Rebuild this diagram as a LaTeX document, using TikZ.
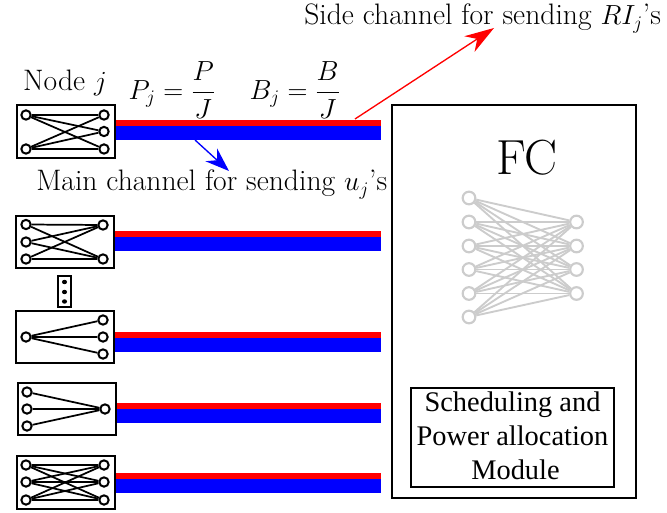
\documentclass[tikz,border=0pt]{standalone}
\usepackage{amsmath}
\usepackage{fontspec}
\usepackage{tikz}
\usetikzlibrary{arrows.meta}
\newfontfamily\modulefont{Liberation Serif}
\tikzset{
	txt/.style={inner sep=0pt,font=\fontsize{22.2}{27}\selectfont},
	modtxt/.style={inner sep=0pt,anchor=base,font=\modulefont\fontsize{21.3}{26}\selectfont},
	devbox/.style={draw,line width=1.5pt,fill=white},
	neuron/.style={circle,draw,line width=1.5pt,fill=white,minimum size=7pt,inner sep=0pt},
	weight/.style={line width=1.3pt},
	fcneuron/.style={circle,draw=black!20,line width=1.6pt,fill=white,minimum size=9.5pt,inner sep=0pt},
	fcweight/.style={draw=black!20,line width=1.4pt},
}
\begin{document}
\begin{tikzpicture}[x=0.75pt,y=-0.75pt]
	\useasboundingbox (0,0) rectangle (667,513);
	% power and bandwidth strips
	\foreach \y in {120,231,332,403,473}{
		\fill [red] (115,\y) rectangle (381,\y+6.5);
		\fill [blue] (115,\y+6) rectangle (381,\y+20);
	}
	% node boxes
	\node [devbox,minimum width=73.5pt,minimum height=39.5pt] (boxa) at (65.5,131.5) {};
	\node [devbox,minimum width=73.5pt,minimum height=39.5pt] (boxb) at (64.5,242) {};
	\node [devbox,minimum width=73.5pt,minimum height=39.5pt] (boxc) at (64.5,337) {};
	\node [devbox,minimum width=73.5pt,minimum height=39.5pt] (boxd) at (66.5,409) {};
	\node [devbox,minimum width=73.5pt,minimum height=39.5pt] (boxe) at (65.5,482.5) {};
	% node j
	\foreach \n/\y in {1/115,2/149}
		\node [neuron] (al\n) at (26,\y) {};
	\foreach \n/\y in {1/115,2/131.5,3/149}
		\node [neuron] (ar\n) at (104,\y) {};
	\foreach \i in {1,2}
		\foreach \k in {1,2,3}
			\draw [weight] (al\i) -- (ar\k);
	% second node
	\foreach \n/\y in {1/224.5,2/242,3/259}
		\node [neuron] (bl\n) at (26,\y) {};
	\foreach \n/\y in {1/225,2/259}
		\node [neuron] (br\n) at (103,\y) {};
	\foreach \i in {1,2,3}
		\foreach \k in {1,2}
			\draw [weight] (bl\i) -- (br\k);
	% third node
	\node [neuron] (cl1) at (26,337) {};
	\foreach \n/\y in {1/320,2/337,3/354}{
		\node [neuron] (cr\n) at (103,\y) {};
		\draw [weight] (cl1) -- (cr\n);
	}
	% fourth node
	\node [neuron] (dr1) at (105,409) {};
	\foreach \n/\y in {1/392,2/409,3/426}{
		\node [neuron] (dl\n) at (27,\y) {};
		\draw [weight] (dl\n) -- (dr1);
	}
	% last node
	\foreach \n/\y in {1/465,2/482,3/500}{
		\node [neuron] (el\n) at (26,\y) {};
		\node [neuron] (er\n) at (104,\y) {};
	}
	\foreach \i in {1,2,3}
		\foreach \k in {1,2,3}
			\draw [weight] (el\i) -- (er\k);
	% vdots box
	\node [devbox,line width=1.2pt,minimum width=9.5pt,minimum height=23pt,inner sep=0pt] (dotsbox) at (64.5,291.5) {};
	\foreach \y in {282,292,301.5}
		\fill (64.5,\y) ellipse (2.6 and 2.2);
	% FC
	\node [devbox,minimum width=183pt,minimum height=294.5pt] (fcbox) at (514,301.5) {};
	\node [devbox,line width=1.7pt,minimum width=152pt,minimum height=74pt] (module) at (512.5,437.5) {};
	\node [txt,font=\fontsize{37}{44}\selectfont] (fclabel) at (527,158) {FC};
	\node [modtxt] (modulea) at (512.5,411.5) {Scheduling and};
	\node [modtxt] (moduleb) at (512.5,445.5) {Power allocation};
	\node [modtxt] (modulec) at (515.5,479) {Module};
	\foreach \n/\y in {1/198,2/222,3/246,4/269.5,5/293.5,6/317}
		\node [fcneuron] (fl\n) at (469,\y) {};
	\foreach \n/\y in {1/222,2/246,3/269.5,4/293.5}
		\node [fcneuron] (fr\n) at (576.5,\y) {};
	\foreach \i in {1,...,6}
		\foreach \k in {1,...,4}
			\draw [fcweight] (fl\i) -- (fr\k);
	% labels
	\node [txt] (nodej) at (65,83) {Node $j$};
	\node [txt] (power) at (172,90) {$P_j=\dfrac{P}{J}$};
	\node [txt] (bandw) at (295,90) {$B_j=\dfrac{B}{J}$};
	\node [txt,anchor=base west] (sidelab) at (304,25) {Side channel for sending $RI_j$'s};
	\node [txt,anchor=base west] (mainlab) at (36,191) {Main channel for sending $u_j$'s};
	% arrows
	\coordinate (sidea) at (355,119);
	\coordinate (sideb) at (494,28);
	\coordinate (maina) at (195,140);
	\coordinate (mainb) at (229,171);
	\draw [red,line width=1pt,-{Stealth[length=22pt,width=14pt,inset=7pt]}] (sidea) -- (sideb);
	\draw [blue,line width=1pt,-{Stealth[length=18pt,width=13pt,inset=6pt]}] (maina) -- (mainb);
\end{tikzpicture}
\end{document}
